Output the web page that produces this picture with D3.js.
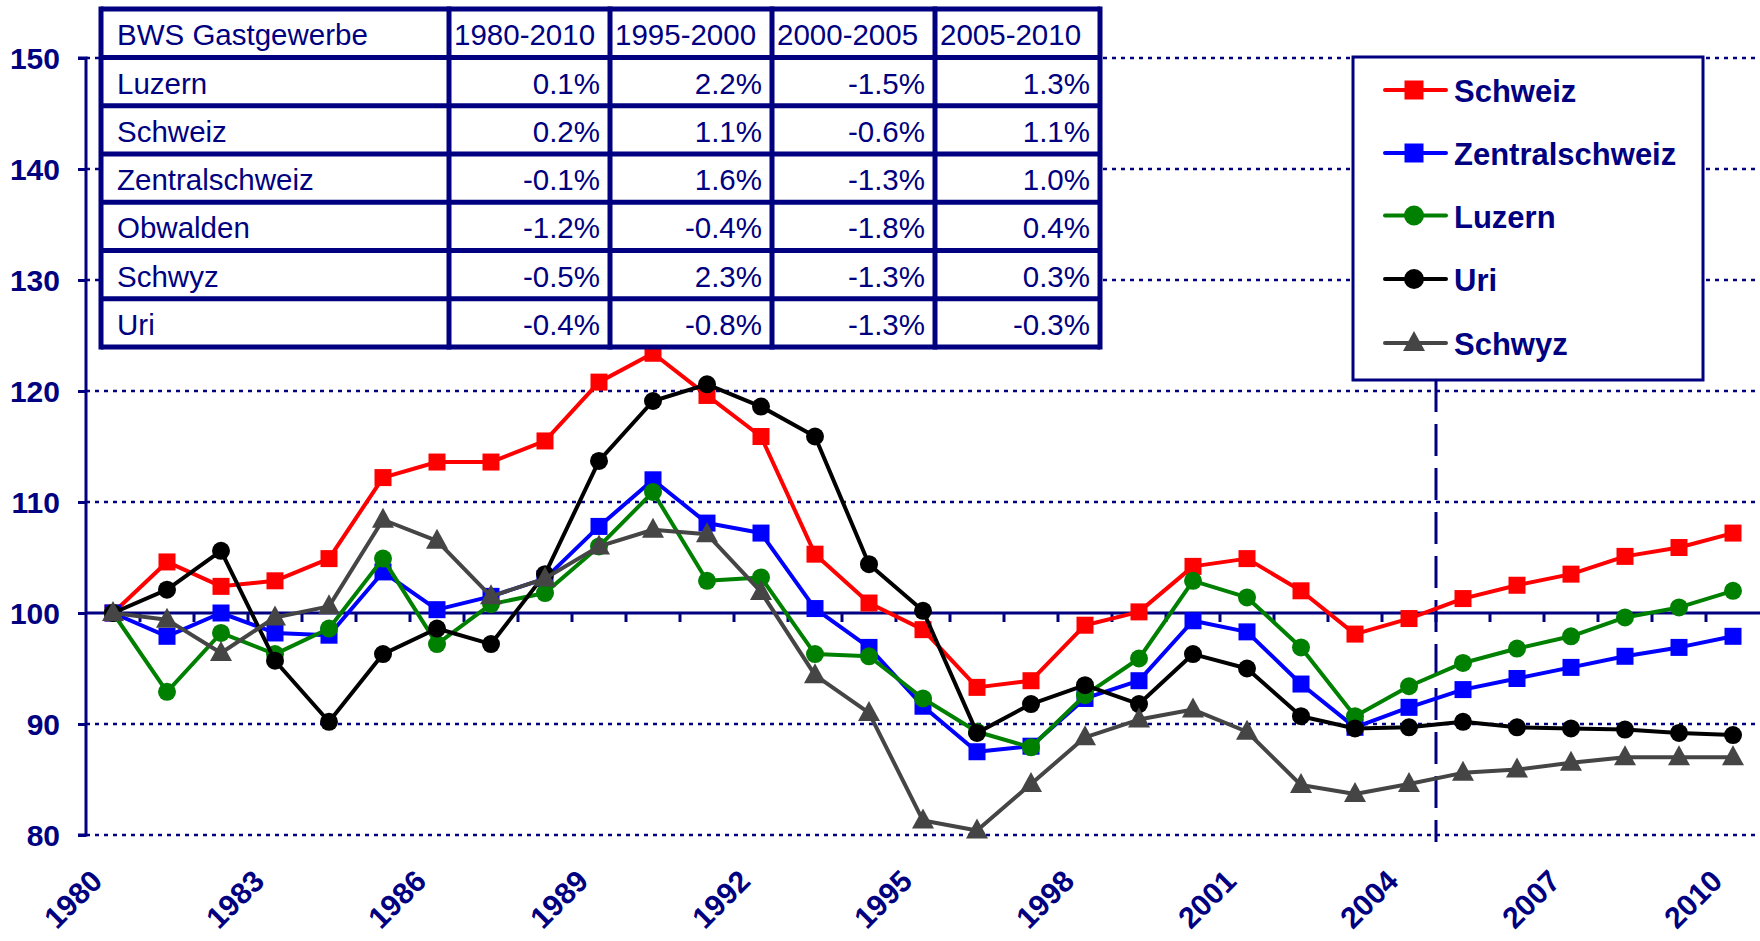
<!DOCTYPE html>
<html><head><meta charset="utf-8">
<script src="https://cdn.jsdelivr.net/npm/d3@7"></script>
<style>body{margin:0;background:#fff}svg{display:block}text{font-family:"Liberation Sans",Arial,sans-serif}</style>
</head><body><svg id="c" width="1760" height="941"></svg>
<script>
const years = [1980,1981,1982,1983,1984,1985,1986,1987,1988,1989,1990,1991,1992,1993,1994,1995,1996,1997,1998,1999,2000,2001,2002,2003,2004,2005,2006,2007,2008,2009,2010];
const xTickLabels = [1980,1983,1986,1989,1992,1995,1998,2001,2004,2007,2010];
const yTicks = [80,90,100,110,120,130,140,150];

const schweiz = [100,104.6,102.4,102.9,104.9,112.2,113.6,113.6,115.5,120.8,123.4,119.6,115.9,105.3,100.9,98.5,93.3,93.9,98.9,100.1,104.2,104.9,102.0,98.1,99.5,101.3,102.5,103.5,105.1,105.9,107.2];
const zentralschweiz = [100,97.9,100.0,98.2,98.0,103.7,100.3,101.5,103.1,107.8,112.0,108.1,107.2,100.4,96.9,91.6,87.5,88.0,92.3,93.9,99.3,98.3,93.6,89.7,91.5,93.1,94.1,95.1,96.1,96.9,97.9];
const luzern = [100,92.9,98.2,96.3,98.6,104.9,97.2,100.8,101.8,106.0,110.9,102.9,103.2,96.3,96.1,92.3,89.3,87.9,92.6,95.9,102.9,101.4,96.9,90.7,93.4,95.5,96.8,97.9,99.6,100.5,102.0];
const uri = [100,102.1,105.6,95.7,90.2,96.3,98.6,97.2,103.5,113.7,119.1,120.6,118.6,115.9,104.4,100.2,89.2,91.8,93.5,91.8,96.3,95.0,90.7,89.6,89.7,90.2,89.7,89.6,89.5,89.2,89.0];
const schwyz = [100,99.4,96.4,99.6,100.6,108.4,106.5,101.5,103.1,106.0,107.5,107.1,101.9,94.4,91.0,81.3,80.4,84.6,88.8,90.4,91.3,89.3,84.5,83.7,84.6,85.6,85.9,86.5,87.0,87.0,87.0];

const seriesNames = ["Schweiz","Zentralschweiz","Luzern","Uri","Schwyz"];
const seriesValues = [schweiz, zentralschweiz, luzern, uri, schwyz];
const seriesColors = ["#ff0000","#0000ff","#008000","#000000","#454545"];
const seriesMarkers = ["square","square","circle","circle","triangle"];

const tableHeader = ["BWS Gastgewerbe","1980-2010","1995-2000","2000-2005","2005-2010"];
const tableRegions = ["Luzern","Schweiz","Zentralschweiz","Obwalden","Schwyz","Uri"];
const growth8010 = ["0.1%","0.2%","-0.1%","-1.2%","-0.5%","-0.4%"];
const growth9500 = ["2.2%","1.1%","1.6%","-0.4%","2.3%","-0.8%"];
const growth0005 = ["-1.5%","-0.6%","-1.3%","-1.8%","-1.3%","-1.3%"];
const growth0510 = ["1.3%","1.1%","1.0%","0.4%","0.3%","-0.3%"];

const NAVY = "#000080";
const svg = d3.select("#c");
svg.append("rect").attr("width",1760).attr("height",941).attr("fill","#fff");

const x = d3.scalePoint().domain(years).range([86,1760]).padding(0.5);
const y = d3.scaleLinear().domain([80,150]).range([835,58]);

// gridlines
svg.append("g").selectAll("line").data(yTicks.filter(v=>v!==100)).join("line")
  .attr("x1",86).attr("x2",1760).attr("y1",d=>y(d)).attr("y2",d=>y(d))
  .attr("stroke",NAVY).attr("stroke-width",2.5).attr("stroke-dasharray","4,5");

// y axis
const yAxis = d3.axisLeft(y).tickValues(yTicks).tickSize(8).tickPadding(18).tickFormat(d3.format("d"));
const gy = svg.append("g").attr("transform","translate(86,0)").call(yAxis);
gy.select(".domain").attr("stroke",NAVY).attr("stroke-width",3).attr("d",`M-8,${y(150)}H0V${y(80)}H-8`);
gy.selectAll(".tick line").attr("stroke",NAVY).attr("stroke-width",3);
gy.selectAll(".tick text").attr("fill",NAVY).attr("font-size",30).attr("font-weight","bold")
  .attr("font-family","'Liberation Sans',Arial,sans-serif").attr("dy","0.36em");

// x axis at 100
const xb = d3.scaleBand().domain(years).range([86,1760]);
const gx = svg.append("g");
gx.append("line").attr("x1",86).attr("x2",1760).attr("y1",y(100)).attr("y2",y(100))
  .attr("stroke",NAVY).attr("stroke-width",3);
gx.selectAll("line.t").data(years.slice(1)).join("line").attr("class","t")
  .attr("x1",d=>xb(d)).attr("x2",d=>xb(d)).attr("y1",y(100)).attr("y2",y(100)+9)
  .attr("stroke",NAVY).attr("stroke-width",3);
gx.selectAll("text").data(xTickLabels).join("text")
  .attr("transform",d=>`translate(${x(d)-9},883) rotate(-45)`)
  .attr("text-anchor","end").attr("fill",NAVY).attr("font-size",30).attr("font-weight","bold")
  .text(d=>d);

// dashed vertical line between 2004 and 2005
svg.append("line").attr("x1",xb(2005)).attr("x2",xb(2005)).attr("y1",380).attr("y2",842)
  .attr("stroke",NAVY).attr("stroke-width",3).attr("stroke-dasharray","32,12");

// series
const line = d3.line().x((d,i)=>x(years[i])).y(d=>y(d));
function marker(g, type, color, cx, cy, big){
  const s = big ? 19 : 17;
  if(type==="square") g.append("rect").attr("x",cx-s/2).attr("y",cy-s/2).attr("width",s).attr("height",s).attr("fill",color);
  else if(type==="circle") g.append("circle").attr("cx",cx).attr("cy",cy).attr("r",s/2+0.5).attr("fill",color);
  else { const w=22,h=20; g.append("path").attr("d",`M${cx},${cy-h*0.6}L${cx+w/2},${cy+h*0.4}L${cx-w/2},${cy+h*0.4}Z`).attr("fill",color); }
}
seriesValues.forEach((vals,k)=>{
  const g = svg.append("g");
  g.append("path").attr("d",line(vals)).attr("fill","none").attr("stroke",seriesColors[k])
    .attr("stroke-width",4).attr("stroke-linejoin","round");
  vals.forEach((v,i)=>marker(g,seriesMarkers[k],seriesColors[k],x(years[i]),y(v),false));
});

// table
const colX = [101,449,610,772,935,1100];
const rowY = [9,57.5,105.75,154,202.25,250.5,298.75,347];
const tg = svg.append("g");
tg.append("rect").attr("x",colX[0]).attr("y",rowY[0]).attr("width",colX[5]-colX[0]).attr("height",rowY[7]-rowY[0]).attr("fill","#fff");
const tableCols = [tableRegions, growth8010, growth9500, growth0005, growth0510];
tableHeader.forEach((h,c)=>{
  tg.append("text").attr("x",c===0?colX[0]+16:colX[c]+5).attr("y",(rowY[0]+rowY[1])/2+11.5)
    .attr("fill",NAVY).attr("font-size",29.5).text(h);
});
tableRegions.forEach((r,i)=>{
  const cy=(rowY[i+1]+rowY[i+2])/2+12;
  tableCols.forEach((col,c)=>{
    tg.append("text").attr("x",c===0?colX[0]+16:colX[c+1]-10).attr("y",cy)
      .attr("text-anchor",c===0?"start":"end").attr("fill",NAVY).attr("font-size",29.5).text(col[i]);
  });
});
rowY.forEach(yy=>tg.append("line").attr("x1",colX[0]).attr("x2",colX[5]).attr("y1",yy).attr("y2",yy).attr("stroke",NAVY).attr("stroke-width",5));
colX.forEach(xx=>tg.append("line").attr("x1",xx).attr("x2",xx).attr("y1",rowY[0]-2.5).attr("y2",rowY[7]+2.5).attr("stroke",NAVY).attr("stroke-width",5));

// legend
const lg = svg.append("g");
lg.append("rect").attr("x",1353).attr("y",57).attr("width",350).attr("height",323).attr("fill","#fff").attr("stroke",NAVY).attr("stroke-width",3);
const legendRows = [90,153,215.5,279,343];
seriesNames.forEach((n,k)=>{
  const cy = legendRows[k];
  lg.append("line").attr("x1",1385).attr("x2",1446).attr("y1",cy).attr("y2",cy).attr("stroke",seriesColors[k]).attr("stroke-width",4).attr("stroke-linecap","round");
  marker(lg,seriesMarkers[k],seriesColors[k],1414,cy,true);
  lg.append("text").attr("x",1454).attr("y",cy+12).attr("fill",NAVY).attr("font-size",31).attr("font-weight","bold").text(n);
});
</script></body></html>
